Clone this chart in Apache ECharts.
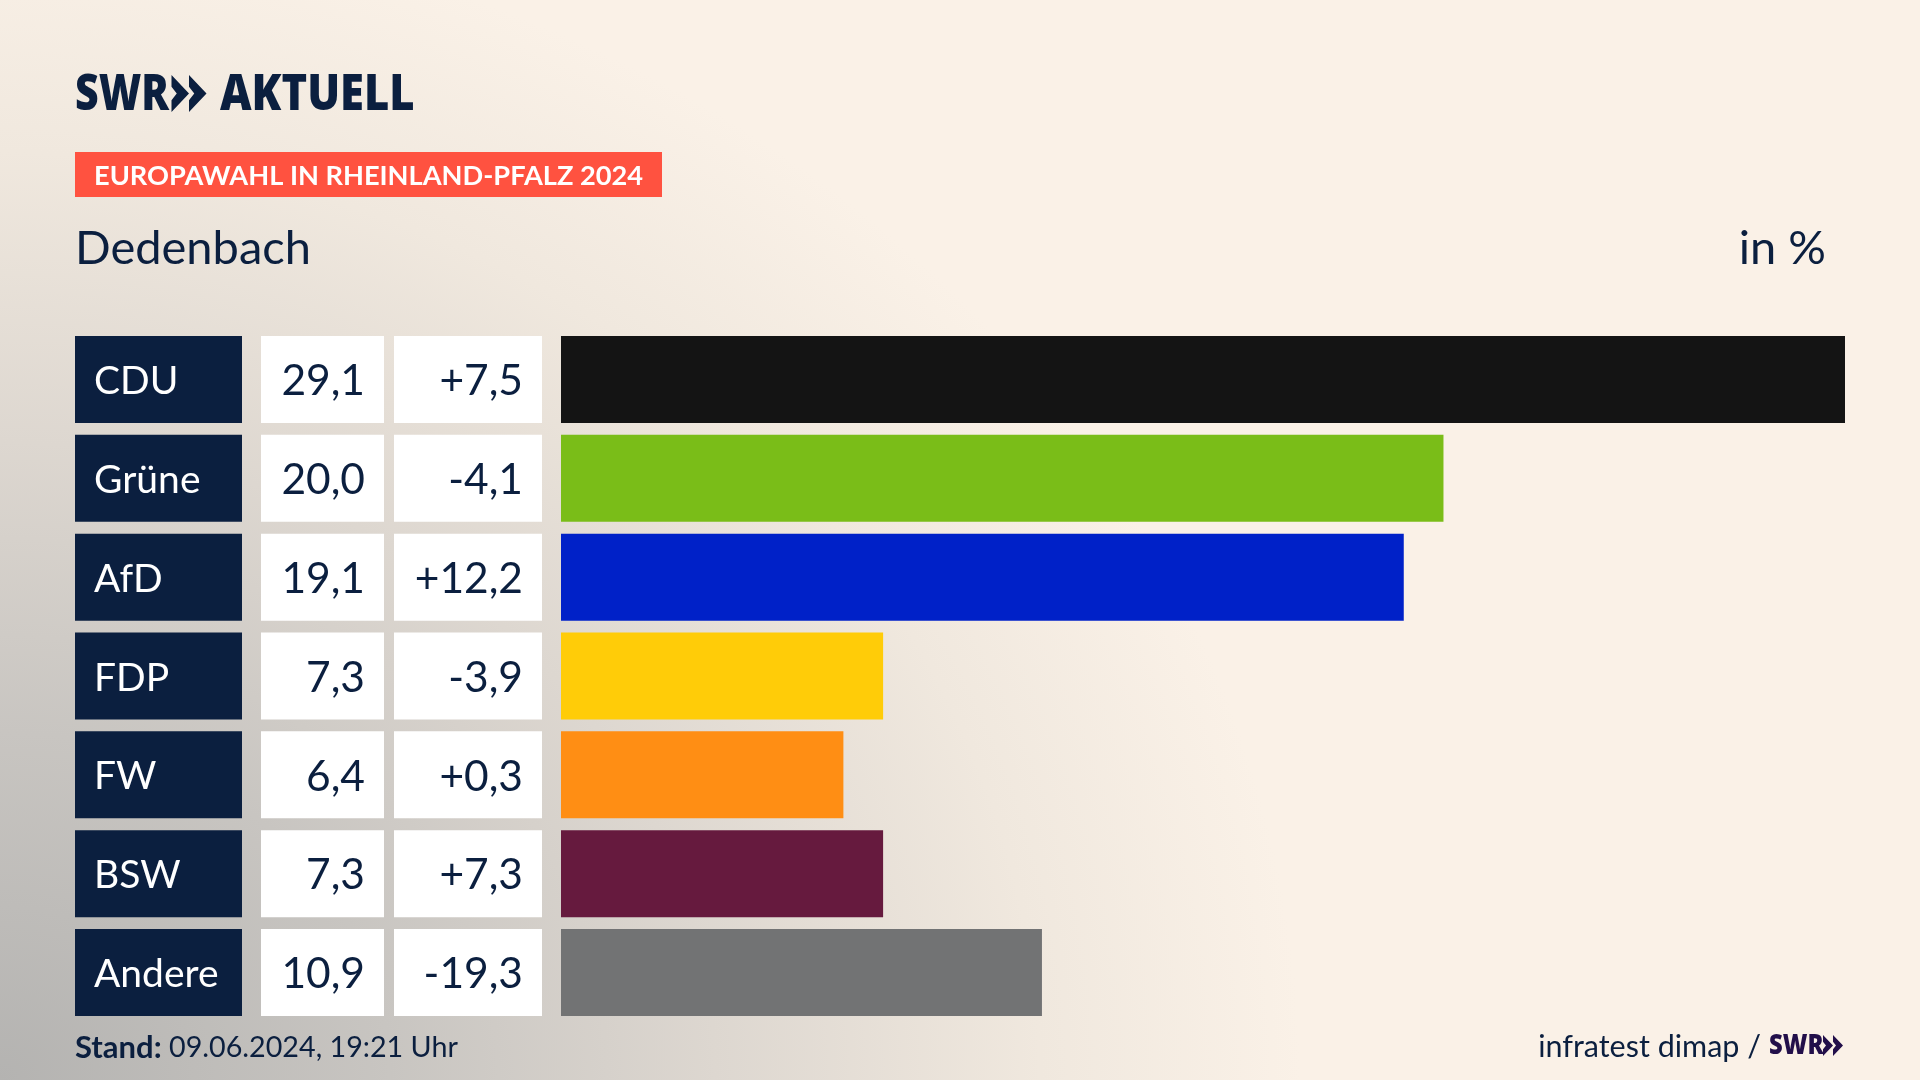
<!DOCTYPE html>
<html>
<head>
<meta charset="utf-8">
<style>
html,body{margin:0;padding:0;width:1920px;height:1080px;overflow:hidden;
  background:#faf1e7 radial-gradient(ellipse 1300px 1160px at 0 1080px,#b4b3b1 0%,#c8c5c1 30%,#ddd7d0 55%,#f0e8de 80%,#faf1e7 100%);}
#chart{width:1920px;height:1080px;}
</style>
<script src="https://cdn.jsdelivr.net/npm/echarts@6/dist/echarts.min.js"></script>
</head>
<body>
<div id="chart"></div>
<script>
var parties = ["CDU","Grüne","AfD","FDP","FW","BSW","Andere"];
var shares = [29.1,20.0,19.1,7.3,6.4,7.3,10.9];
var changes = [7.5,-4.1,12.2,-3.9,0.3,7.3,-19.3];
var barColors = ["#141414","#7abd18","#0021c8","#ffcc08","#ff8e14","#661a3e","#727374"];

var navy = "#0b1f3f";
var font = "Lato";

function fmt(v){ return v.toFixed(1).replace(".",","); }
function fmtChange(v){ return (v>0?"+":"")+fmt(v); }

// the three table columns left of the bars, same rows as the bar grid
var rowTop = 330, rowHeight = 692;
var columns = [
    {left:75,width:167,fill:navy,color:"#fff",pos:"insideLeft",size:39,text:function(i){return parties[i]}},
    {left:261,width:123,fill:"#fff",color:navy,pos:"insideRight",size:42.5,text:function(i){return fmt(shares[i])}},
    {left:394,width:148,fill:"#fff",color:navy,pos:"insideRight",size:42.5,text:function(i){return fmtChange(changes[i])}}
];

var grids = [{left:561,width:1284,top:rowTop,height:rowHeight}];
var xAxes = [{gridIndex:0,type:"value",min:0,max:29.1,show:false}];
var yAxes = [{gridIndex:0,type:"category",data:parties,inverse:true,show:false}];
var series = [{
    type:"bar",
    barWidth:87,
    silent:true,
    data:shares.map(function(v,i){return {value:v,itemStyle:{color:barColors[i]}}})
}];

columns.forEach(function(c,n){
    grids.push({left:c.left,width:c.width,top:rowTop,height:rowHeight});
    xAxes.push({gridIndex:n+1,type:"value",min:0,max:1,show:false});
    yAxes.push({gridIndex:n+1,type:"category",data:parties,inverse:true,show:false});
    series.push({
        type:"bar",
        xAxisIndex:n+1,
        yAxisIndex:n+1,
        barWidth:87,
        silent:true,
        itemStyle:{color:c.fill},
        label:{
            show:true,
            position:c.pos,
            distance:19,
            offset:[0,2],
            color:c.color,
            fontFamily:font,
            fontSize:c.size,
            formatter:function(p){return c.text(p.dataIndex)}
        },
        data:parties.map(function(){return 1})
    });
});

function chevrons(x,y,w,h,gap,fill){
    var out = [];
    for(var k=0;k<2;k++){
        var x0 = x+k*gap;
        out.push({type:"polygon",silent:true,style:{fill:fill},shape:{points:[
            [x0,y],[x0+w,y+h/2],[x0,y+h],[x0,y+h*0.68],[x0+w*0.3,y+h/2],[x0,y+h*0.32]
        ]}});
    }
    return out;
}

var graphic = [
    {type:"text",silent:true,x:75,y:96,scaleX:0.82,style:{text:"SWR",fill:navy,fontFamily:"Open Sans",fontWeight:800,fontSize:50,verticalAlign:"middle"}},
    {type:"text",silent:true,x:220,y:96,scaleX:0.87,style:{text:"AKTUELL",fill:navy,fontFamily:"Open Sans",fontWeight:800,fontSize:50,verticalAlign:"middle"}},
    {type:"rect",silent:true,z:-1,shape:{x:75,y:152,width:587,height:45},style:{fill:"#ff5240"}},
    {type:"text",silent:true,x:1769,y:1046,scaleX:0.82,style:{text:"SWR",fill:"#220f4a",fontFamily:"Open Sans",fontWeight:800,fontSize:29,verticalAlign:"middle"}}
].concat(chevrons(171.5,75,17.5,37,17.5,navy)).concat(chevrons(1823,1035,10,21,10,"#220f4a"));

var chart = echarts.init(document.getElementById("chart"),null,{renderer:"canvas"});
chart.setOption({
    animation:false,
    title:[
        {text:"EUROPAWAHL IN RHEINLAND-PFALZ 2024",left:94,top:176,textVerticalAlign:"middle",padding:0,
            textStyle:{color:"#fff",fontFamily:font,fontWeight:"bold",fontSize:27.2}},
        {text:"Dedenbach",left:75,top:249,textVerticalAlign:"middle",padding:0,
            textStyle:{color:navy,fontFamily:font,fontWeight:"normal",fontSize:47}},
        {text:"in %",right:94,top:249,textVerticalAlign:"middle",padding:0,
            textStyle:{color:navy,fontFamily:font,fontWeight:"normal",fontSize:47}},
        {text:"{b|Stand:} 09.06.2024, 19:21 Uhr",left:75,top:1048,textVerticalAlign:"middle",padding:0,
            textStyle:{color:navy,fontFamily:font,fontWeight:"normal",fontSize:28.7,
                rich:{b:{fontFamily:font,fontWeight:"bold",fontSize:31,color:navy}}}},
        {text:"infratest dimap /",right:159,top:1047,textVerticalAlign:"middle",padding:0,
            textStyle:{color:navy,fontFamily:font,fontWeight:"normal",fontSize:30.5}}
    ],
    grid:grids,
    xAxis:xAxes,
    yAxis:yAxes,
    series:series,
    graphic:graphic
});
</script>
</body>
</html>
